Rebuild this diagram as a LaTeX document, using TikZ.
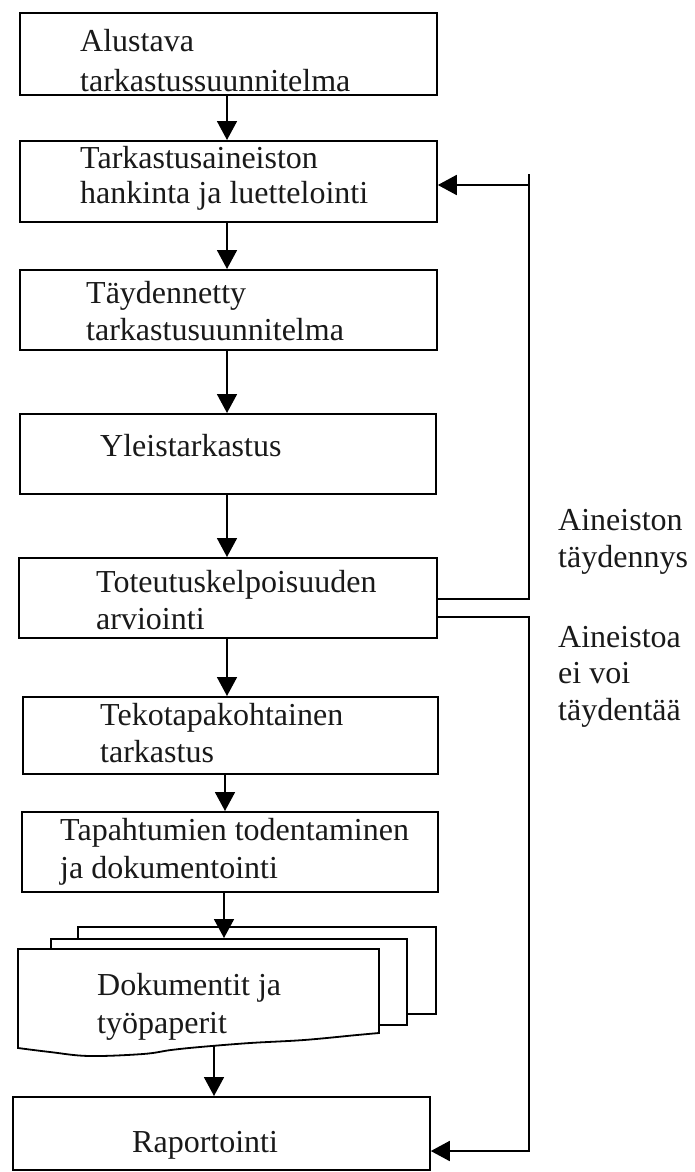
\documentclass[tikz,border=0pt]{standalone}
\usepackage{fontspec}
\setmainfont{Liberation Serif}
\usetikzlibrary{arrows.meta}
\tikzset{
  box/.style={draw, line width=1.8pt, fill=white, rectangle, inner sep=0pt, anchor=north west},
  txt/.style={anchor=base west, inner sep=0pt, text=black!90, font=\fontsize{32}{38}\selectfont},
  flow/.style={line width=1.8pt, -{Triangle[length=19pt,width=20pt]}},
  link/.style={line width=1.8pt},
}
\begin{document}
\begin{tikzpicture}[x=1pt,y=-1pt]
\useasboundingbox (0,0) rectangle (694,1172);

% process boxes
\node[box, minimum width=417, minimum height=82] (b1) at (19,12) {};
\node[box, minimum width=417, minimum height=81] (b2) at (19,140) {};
\node[box, minimum width=417, minimum height=80] (b3) at (19,269) {};
\node[box, minimum width=416, minimum height=80] (b4) at (19,413) {};
\node[box, minimum width=418, minimum height=80] (b5) at (18,557) {};
\node[box, minimum width=415, minimum height=77] (b6) at (22,696) {};
\node[box, minimum width=416, minimum height=80] (b7) at (21,811) {};
\node[box, minimum width=417, minimum height=73] (b8) at (12,1096) {};

% stack of documents
\node[box, minimum width=358, minimum height=87] (s3) at (77,926) {};
\node[box, minimum width=356, minimum height=86] (s2) at (50,938) {};
\draw[link, fill=white] (18,949) -- (379,949) -- (379,1033)
  -- plot[smooth, tension=0.6] coordinates {(379,1033) (357,1035) (304,1040) (250,1043)
     (200,1047) (171,1050) (143,1054) (89,1056) (50,1052) (18,1048)} -- cycle;
\coordinate (wave) at (214,1046);

% box texts
\node[txt] (t1a) at (80,52) {Alustava};
\node[txt] (t1b) at (80,91) {tarkastussuunnitelma};
\node[txt] (t2a) at (80,168) {Tarkastusaineiston};
\node[txt] (t2b) at (80,203) {hankinta ja luettelointi};
\node[txt] (t3a) at (86,303) {Täydennetty};
\node[txt] (t3b) at (86,340) {tarkastusuunnitelma};
\node[txt] (t4) at (100,456) {Yleistarkastus};
\node[txt] (t5a) at (96,592) {Toteutuskelpoisuuden};
\node[txt] (t5b) at (96,629) {arviointi};
\node[txt] (t6a) at (100,725) {Tekotapakohtainen};
\node[txt] (t6b) at (100,762) {tarkastus};
\node[txt] (t7a) at (60,840) {Tapahtumien todentaminen};
\node[txt] (t7b) at (60,878) {ja dokumentointi};
\node[txt] (tsa) at (97,995) {Dokumentit ja};
\node[txt] (tsb) at (97,1033) {työpaperit};
\node[txt] (t8) at (132,1152) {Raportointi};

% side labels
\node[txt] (la) at (558,530) {Aineiston};
\node[txt] (lb) at (558,567) {täydennys};
\node[txt] (lc) at (558,647) {Aineistoa};
\node[txt] (ld) at (558,683) {ei voi};
\node[txt] (le) at (558,720) {täydentää};

% guide coordinates
\coordinate (cx) at (227,0);
\coordinate (cx6) at (225,0);
\coordinate (cx7) at (224,0);
\coordinate (cxs) at (214,0);
\coordinate (rx) at (529,0);
\coordinate (fb0) at (0,174);
\coordinate (fb) at (0,185);
\coordinate (ya) at (0,599);
\coordinate (yb) at (0,617);
\coordinate (yr) at (0,1151);

% main flow
\draw[flow] (b1.south -| cx) -- (b2.north -| cx);
\draw[flow] (b2.south -| cx) -- (b3.north -| cx);
\draw[flow] (b3.south -| cx) -- (b4.north -| cx);
\draw[flow] (b4.south -| cx) -- (b5.north -| cx);
\draw[flow] (b5.south -| cx) -- (b6.north -| cx);
\draw[flow] (b6.south -| cx6) -- (b7.north -| cx6);
\draw[flow] (b7.south -| cx7) -- (s2.north -| cx7);
\draw[flow] (wave) -- (b8.north -| cxs);

% feedback and bypass
\draw[link] (b5.east |- ya) -- (rx |- ya) -- (rx |- fb0);
\draw[flow] (rx |- fb) -- (b2.east |- fb);
\draw[flow] (b5.east |- yb) -- (rx |- yb) -- (rx |- yr) -- (b8.east |- yr);
\end{tikzpicture}
\end{document}
